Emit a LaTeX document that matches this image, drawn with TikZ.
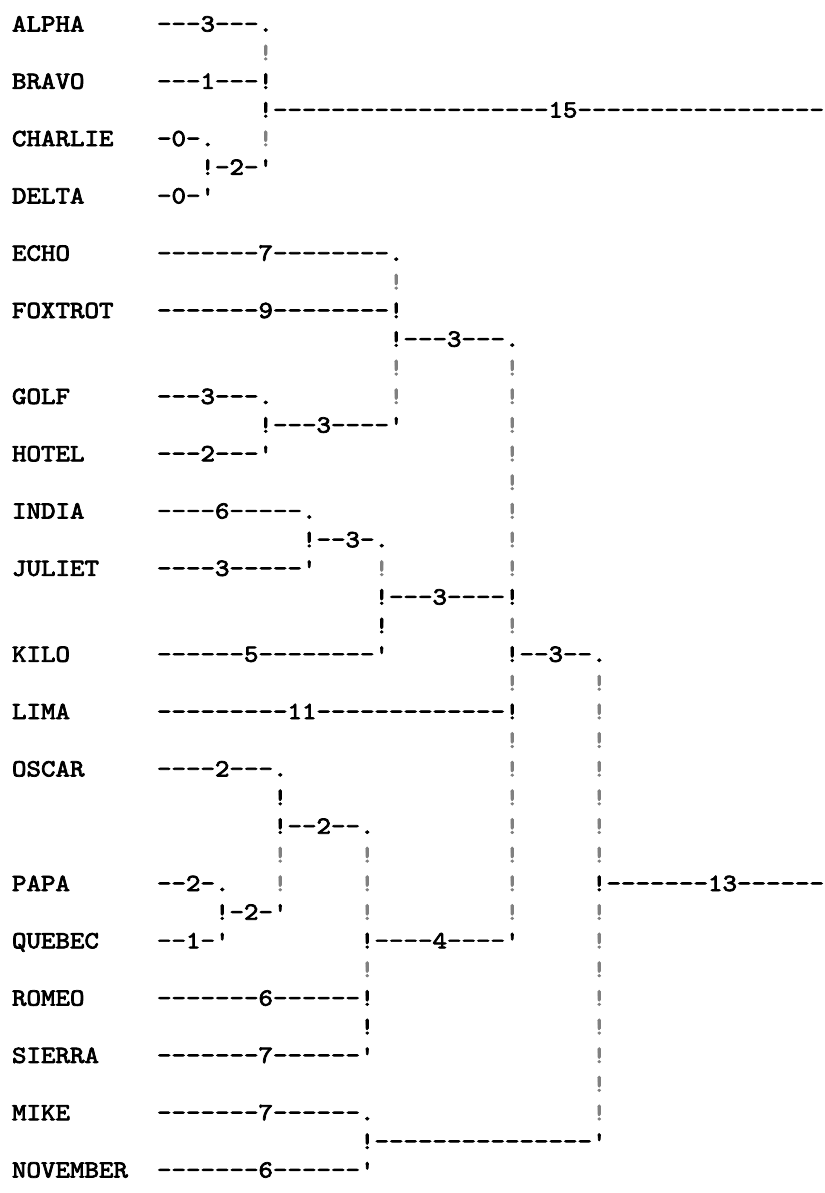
\documentclass[tikz,border=0pt]{standalone}
\usepackage{fontspec}
\setmonofont[FakeStretch=1.12,FakeBold=3]{lmmono10-regular.otf}
\definecolor{barGray}{HTML}{808080}
\tikzset{
  txt/.style={anchor=base west, inner sep=0pt, outer sep=0pt,
    font=\ttfamily\fontsize{12.33}{14}\selectfont, text=black},
  bar/.style={txt, text=barGray}
}
% \seg[style]{name}{row}{column}{text}
\newcommand\seg[5][txt]{\node[#1] (#2) at ({6pt+7.25pt*#4},{-15.75pt-14.325pt*#3}) {#5};}
\begin{document}
\begin{tikzpicture}
\useasboundingbox (0,0) rectangle (412pt,-596.5pt);
% rows 0-6
\seg{alpha}{0}{0}{ALPHA}   \seg{r0a}{0}{10}{---3---.}
\seg[bar]{r1a}{1}{17}{!}
\seg{bravo}{2}{0}{BRAVO}   \seg{r2a}{2}{10}{---1---!}
\seg{r3a}{3}{17}{!-------------------15-----------------}
\seg{charlie}{4}{0}{CHARLIE} \seg{r4a}{4}{10}{-0-.} \seg[bar]{r4b}{4}{17}{!}
\seg{r5a}{5}{13}{!-2-'}
\seg{delta}{6}{0}{DELTA}   \seg{r6a}{6}{10}{-0-'}
% rows 8-15
\seg{echo}{8}{0}{ECHO}     \seg{r8a}{8}{10}{-------7--------.}
\seg[bar]{r9a}{9}{26}{!}
\seg{foxtrot}{10}{0}{FOXTROT} \seg{r10a}{10}{10}{-------9--------!}
\seg{r11a}{11}{26}{!---3---.}
\seg[bar]{r12a}{12}{26}{!} \seg[bar]{r12b}{12}{34}{!}
\seg{golf}{13}{0}{GOLF}    \seg{r13a}{13}{10}{---3---.} \seg[bar]{r13b}{13}{26}{!} \seg[bar]{r13c}{13}{34}{!}
\seg{r14a}{14}{17}{!---3----'} \seg[bar]{r14b}{14}{34}{!}
\seg{hotel}{15}{0}{HOTEL}  \seg{r15a}{15}{10}{---2---'} \seg[bar]{r15b}{15}{34}{!}
\seg[bar]{r16a}{16}{34}{!}
% rows 17-25
\seg{india}{17}{0}{INDIA}  \seg{r17a}{17}{10}{----6-----.} \seg[bar]{r17b}{17}{34}{!}
\seg{r18a}{18}{20}{!--3-.} \seg[bar]{r18b}{18}{34}{!}
\seg{juliet}{19}{0}{JULIET} \seg{r19a}{19}{10}{----3-----'} \seg[bar]{r19b}{19}{25}{!} \seg[bar]{r19c}{19}{34}{!}
\seg{r20a}{20}{25}{!---3----!}
\seg{r21a}{21}{25}{!} \seg[bar]{r21b}{21}{34}{!}
\seg{kilo}{22}{0}{KILO}    \seg{r22a}{22}{10}{------5--------'} \seg{r22b}{22}{34}{!--3--.}
\seg[bar]{r23a}{23}{34}{!} \seg[bar]{r23b}{23}{40}{!}
\seg{lima}{24}{0}{LIMA}    \seg{r24a}{24}{10}{---------11-------------!} \seg[bar]{r24b}{24}{40}{!}
\seg[bar]{r25a}{25}{34}{!} \seg[bar]{r25b}{25}{40}{!}
% rows 26-33
\seg{oscar}{26}{0}{OSCAR}  \seg{r26a}{26}{10}{----2---.} \seg[bar]{r26b}{26}{34}{!} \seg[bar]{r26c}{26}{40}{!}
\seg{r27a}{27}{18}{!} \seg[bar]{r27b}{27}{34}{!} \seg[bar]{r27c}{27}{40}{!}
\seg{r28a}{28}{18}{!--2--.} \seg[bar]{r28b}{28}{34}{!} \seg[bar]{r28c}{28}{40}{!}
\seg[bar]{r29a}{29}{18}{!} \seg[bar]{r29b}{29}{24}{!} \seg[bar]{r29c}{29}{34}{!} \seg[bar]{r29d}{29}{40}{!}
\seg{papa}{30}{0}{PAPA}    \seg{r30a}{30}{10}{--2-.} \seg[bar]{r30b}{30}{18}{!} \seg[bar]{r30c}{30}{24}{!} \seg[bar]{r30d}{30}{34}{!}
\seg{r30e}{30}{40}{!-------13------}
\seg{r31a}{31}{14}{!-2-'} \seg[bar]{r31b}{31}{24}{!} \seg[bar]{r31c}{31}{34}{!} \seg[bar]{r31d}{31}{40}{!}
\seg{quebec}{32}{0}{QUEBEC} \seg{r32a}{32}{10}{--1-'} \seg{r32b}{32}{24}{!----4----'} \seg[bar]{r32c}{32}{40}{!}
\seg[bar]{r33a}{33}{24}{!} \seg[bar]{r33b}{33}{40}{!}
% rows 34-40
\seg{romeo}{34}{0}{ROMEO}  \seg{r34a}{34}{10}{-------6------!} \seg[bar]{r34b}{34}{40}{!}
\seg{r35a}{35}{24}{!} \seg[bar]{r35b}{35}{40}{!}
\seg{sierra}{36}{0}{SIERRA} \seg{r36a}{36}{10}{-------7------'} \seg[bar]{r36b}{36}{40}{!}
\seg[bar]{r37a}{37}{40}{!}
\seg{mike}{38}{0}{MIKE}    \seg{r38a}{38}{10}{-------7------.} \seg[bar]{r38b}{38}{40}{!}
\seg{r39a}{39}{24}{!---------------'}
\seg{november}{40}{0}{NOVEMBER} \seg{r40a}{40}{10}{-------6------'}
\end{tikzpicture}
\end{document}
